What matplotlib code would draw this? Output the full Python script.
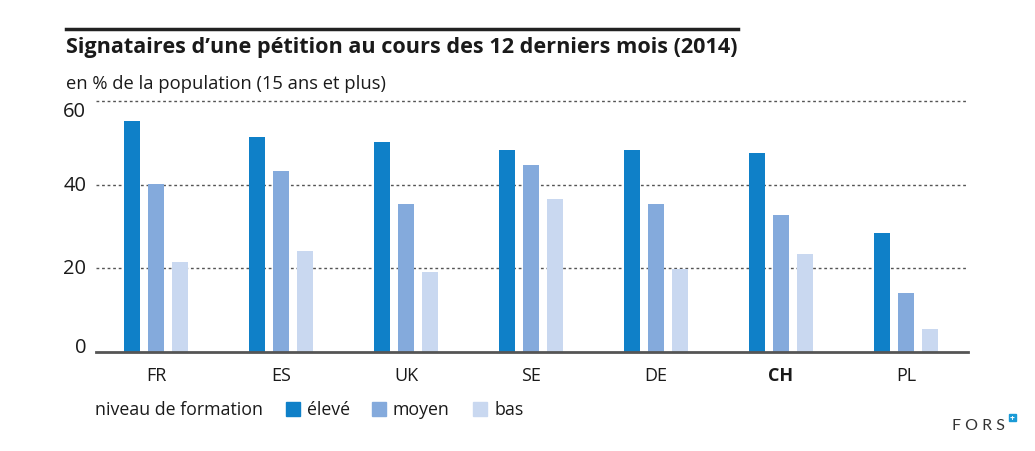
import matplotlib
matplotlib.use("Agg")
import matplotlib.pyplot as plt
import numpy as np

# data
countries = ["FR", "ES", "UK", "SE", "DE", "CH", "PL"]
eleve = [55.1, 51.4, 50.1, 48.3, 48.3, 47.6, 28.4]
moyen = [40.2, 43.3, 35.3, 44.6, 35.3, 32.8, 14.2]
bas = [21.5, 24.1, 19.1, 36.5, 19.9, 23.5, 5.5]
series_names = ["élevé", "moyen", "bas"]
yticks = [0, 20, 40, 60]

colors = ["#0f80c8", "#84aadc", "#c9d8f0"]
FONT = "Open Sans"
plt.rcParams["font.family"] = [FONT, "DejaVu Sans"]
TXT = "#1a1a1a"

W, H = 1035, 452
fig = plt.figure(figsize=(W / 100, H / 100), dpi=100)

# axes placed in pixel terms
ax_l, ax_r = 96, 968
ax_top, ax_bot = 101.7, 353.3
ax = fig.add_axes([ax_l / W, 1 - ax_bot / H, (ax_r - ax_l) / W, (ax_bot - ax_top) / H])

x = np.arange(len(countries))
bw = 0.128
step = 0.192
for i, vals in enumerate([eleve, moyen, bas]):
    ax.bar(x + (i - 1) * step, vals, width=bw, color=colors[i], zorder=3)

ax.set_xlim(-0.48, len(countries) - 1 + 0.496)
ax.set_ylim(0, 60)

for s in ax.spines.values():
    s.set_visible(False)

for t in yticks[1:]:
    ax.axhline(t, color="#555555", lw=1.0, ls=(0, (2, 2)), zorder=1, clip_on=False)
ax.axhline(0, color="#555555", lw=2.0, zorder=4, clip_on=False)

ax.set_yticks(yticks)
ax.set_yticklabels([str(t) for t in yticks])
ax.tick_params(axis="y", length=0, pad=7, labelsize=14.5, labelcolor=TXT)
for lbl, t in zip(ax.get_yticklabels(), yticks):
    if t == 0:
        lbl.set_va("baseline")
    elif t == 60:
        lbl.set_va("top")
    else:
        lbl.set_va("center")

ax.set_xticks(x)
ax.set_xticklabels(countries)
ax.tick_params(axis="x", length=0, pad=10, labelsize=13, labelcolor=TXT)
for lbl in ax.get_xticklabels():
    if lbl.get_text() == "CH":
        lbl.set_fontweight("bold")

# title block
fig.add_artist(plt.Line2D([66 / W, 738 / W], [1 - 30 / H, 1 - 30 / H],
                          color="#222222", lw=2.5))
fig.text(66 / W, 1 - 47 / H, "Signataires d\u2019une pétition au cours des 12 derniers mois (2014)",
         fontsize=15.6, fontweight="bold", color=TXT, va="center", ha="left")
fig.text(66 / W, 1 - 84 / H, "en % de la population (15 ans et plus)",
         fontsize=13.2, color=TXT, va="center", ha="left")

# legend drawn by hand
ly = 1 - 410 / H
fig.text(95 / W, ly, "niveau de formation", fontsize=12.8, color=TXT, va="center", ha="left")
sq_x = [286, 372, 473]
for name, c, sx in zip(series_names, colors, sq_x):
    fig.add_artist(plt.Rectangle((sx / W, ly - 7 / H), 14 / W, 14 / H, color=c))
    fig.text((sx + 21) / W, ly, name, fontsize=12.8, color=TXT, va="center", ha="left")

# FORS mark
fig.text(1005 / W, 1 - 426 / H, "F O R S", fontsize=11.5, color="#333333",
         va="center", ha="right", family="Lato")
fig.add_artist(plt.Rectangle((1009 / W, 1 - 422 / H), 7 / W, 7 / H, color="#1a9ad6"))
fig.text(1012.5 / W, 1 - 418.5 / H, "+", fontsize=6, color="white", ha="center", va="center",
         fontweight="bold")

fig.savefig("out.png", dpi=100)
